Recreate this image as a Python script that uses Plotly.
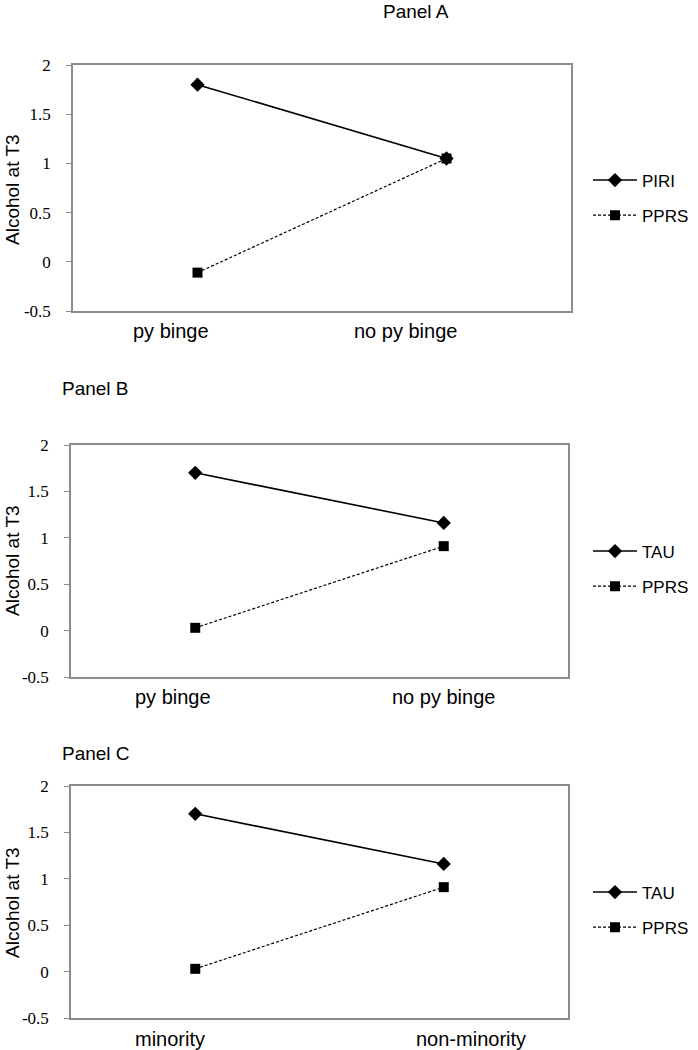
import plotly.graph_objects as go

# categories and values
cats_ab = ["py binge", "no py binge"]
cats_c = ["minority", "non-minority"]

piri_a = [1.8, 1.05]
pprs_a = [-0.11, 1.05]

tau_b = [1.7, 1.16]
pprs_b = [0.03, 0.91]

tau_c = [1.7, 1.16]
pprs_c = [0.03, 0.91]

ytick_vals = [-0.5, 0, 0.5, 1, 1.5, 2]
ytick_text = ["-0.5", "0", "0.5", "1", "1.5", "2"]

W = 698
H = 1050


def px(x):
    return x / W


def py(y):
    return 1 - y / H


sans = "Liberation Sans Narrow, Arial Narrow, Liberation Sans, Arial"
serif = "Liberation Serif, Times New Roman, serif"

# panel boxes in page pixels: (left, right, top, bottom)
boxes = [(73, 571, 65, 311), (71, 568, 445, 677), (71, 568, 786, 1018)]
panels = [
    ("Panel A", cats_ab, ("PIRI", piri_a), ("PPRS", pprs_a)),
    ("Panel B", cats_ab, ("TAU", tau_b), ("PPRS", pprs_b)),
    ("Panel C", cats_c, ("TAU", tau_c), ("PPRS", pprs_c)),
]
legend_y = [198, 569, 910]
ytitle_y = [190, 561, 903]
# category labels sit a bit off their points, as in the source
xlabel_y = [331, 697, 1039]
xlabel_shift = [(-27, -41), (-22, 0), (-25, 27)]

fig = go.Figure()
annotations = []

for i, (title, cats, s1, s2) in enumerate(panels):
    n = "" if i == 0 else str(i + 1)
    lg = "legend" + n
    fig.add_trace(go.Scatter(
        x=cats, y=s1[1], name=s1[0], mode="lines+markers",
        line=dict(color="black", width=1.6),
        marker=dict(symbol="diamond", size=11, color="black"),
        xaxis="x" + n, yaxis="y" + n, legend=lg, legendgroup=lg + "a"))
    fig.add_trace(go.Scatter(
        x=cats, y=s2[1], name=s2[0], mode="lines+markers",
        line=dict(color="black", width=1.2, dash="3px,2px"),
        marker=dict(symbol="square", size=10, color="black"),
        xaxis="x" + n, yaxis="y" + n, legend=lg, legendgroup=lg + "b"))

    l, r, t, b = boxes[i]
    fig.update_layout(**{
        "xaxis" + n: dict(
            domain=[px(l), px(r)], type="category", range=[-0.5, 1.5],
            showline=True, linecolor="#8c8c8c", linewidth=1.5, mirror=True,
            showgrid=False, zeroline=False, ticks="", automargin=False,
            showticklabels=False,
            anchor="y" + n, fixedrange=True),
        "yaxis" + n: dict(
            domain=[py(b), py(t)], range=[-0.5, 2], tickvals=ytick_vals, ticktext=ytick_text,
            showline=True, linecolor="#8c8c8c", linewidth=1.5, mirror=True,
            showgrid=False, zeroline=False, ticks="outside", ticklen=5,
            tickcolor="#8c8c8c", automargin=False, ticklabelstandoff=12,
            tickfont=dict(family=serif, size=17, color="black"),
            anchor="x" + n, fixedrange=True),
        lg: dict(
            x=px(588), y=py(legend_y[i]), xanchor="left", yanchor="middle",
            font=dict(family=sans, size=17, color="black"),
            bgcolor="rgba(0,0,0,0)", tracegroupgap=10, itemwidth=44),
    })
    annotations.append(dict(
        text="Alcohol at T3", textangle=-90, x=px(12), y=py(ytitle_y[i]),
        xref="paper", yref="paper", showarrow=False,
        xanchor="center", yanchor="middle",
        font=dict(family="Liberation Sans, Arial", size=19, color="black")))
    for cat, shift in zip(cats, xlabel_shift[i]):
        annotations.append(dict(
            text=cat, x=cat, xref="x" + n, y=py(xlabel_y[i]), yref="paper",
            xshift=shift, showarrow=False, xanchor="center", yanchor="middle",
            font=dict(family=sans, size=20, color="black")))

annotations.append(dict(text="Panel A", x=px(416), y=py(11), xref="paper", yref="paper",
                        showarrow=False, xanchor="center", yanchor="middle",
                        font=dict(family=sans, size=19, color="black")))
annotations.append(dict(text="Panel B", x=px(60), y=py(388), xref="paper", yref="paper",
                        showarrow=False, xanchor="left", yanchor="middle",
                        font=dict(family=sans, size=19, color="black")))
annotations.append(dict(text="Panel C", x=px(60), y=py(753), xref="paper", yref="paper",
                        showarrow=False, xanchor="left", yanchor="middle",
                        font=dict(family=sans, size=19, color="black")))

fig.update_layout(
    width=W, height=H,
    margin=dict(l=0, r=0, t=0, b=0, autoexpand=False),
    paper_bgcolor="white", plot_bgcolor="white",
    annotations=annotations,
    showlegend=True,
)

# drop the default body margin so the figure fills the window
fig.write_html("out.html", config={"displayModeBar": False},
               post_script="document.body.style.margin='0px';")
